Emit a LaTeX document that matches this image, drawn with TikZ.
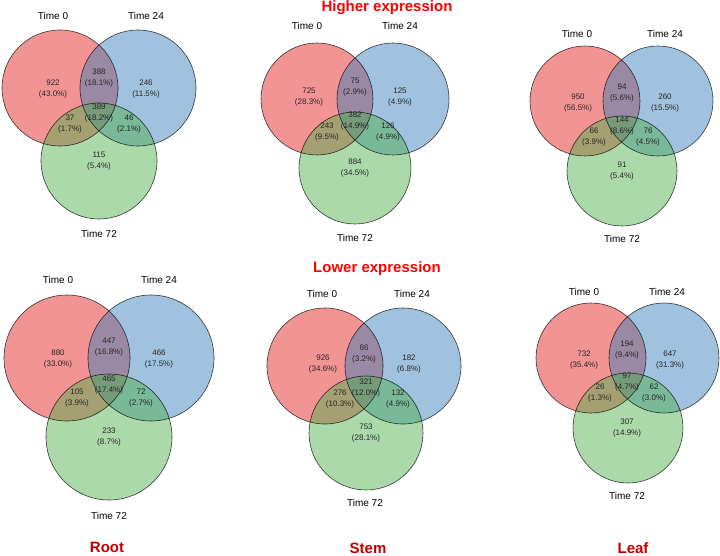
\documentclass[tikz,border=0pt]{standalone}
\usepackage{fontspec}
\setmainfont{Liberation Sans}
\definecolor{setred}{HTML}{E41A1C}
\definecolor{setblue}{HTML}{377EB8}
\definecolor{setgreen}{HTML}{4DAF4A}
\definecolor{tissuered}{HTML}{C00000}
\begin{document}
\begin{tikzpicture}[x=1pt, y=-1pt,
    fred/.style={fill=setred, fill opacity=0.47},
    fblue/.style={fill=setblue, fill opacity=0.47},
    fgreen/.style={fill=setgreen, fill opacity=0.47},
    rim/.style={draw=black, draw opacity=0.75, line width=0.6pt},
    setname/.style={font=\fontsize{10}{12}\selectfont, inner sep=0pt},
    count/.style={font=\fontsize{8}{11.5}\selectfont, align=center, inner sep=0pt, text=black!85},
    heading/.style={font=\fontsize{15}{18}\selectfont\bfseries, text=red, inner sep=0pt},
    tissue/.style={font=\fontsize{15}{18}\selectfont\bfseries, text=tissuered, inner sep=0pt}]
    \useasboundingbox (0,0) rectangle (720,556);
    % Section headings
    \node[heading] (hi) at (387,8) {Higher expression};
    \node[heading] (lo) at (377,269) {Lower expression};
    % Root, higher expression
    \fill[fred] (60,88) circle (58);
    \fill[fblue] (138,88) circle (58);
    \fill[fgreen] (99,161) circle (58);
    \draw[rim] (60,88) circle (58) (138,88) circle (58) (99,161) circle (58);
    \node[setname] (rh0) at (53,16) {Time 0};
    \node[setname] (rh24) at (146,16) {Time 24};
    \node[setname] (rh72) at (99,234) {Time 72};
    \node[count] (rhR) at (53,89) {922\\(43.0\%)};
    \node[count] (rhRB) at (99,78) {388\\(18.1\%)};
    \node[count] (rhB) at (146,89) {246\\(11.5\%)};
    \node[count] (rhC) at (99,113) {389\\(18.2\%)};
    \node[count] (rhRG) at (70,124) {37\\(1.7\%)};
    \node[count] (rhBG) at (129,124) {46\\(2.1\%)};
    \node[count] (rhG) at (99,161) {115\\(5.4\%)};
    % Stem, higher expression
    \fill[fred] (317,99) circle (56);
    \fill[fblue] (393,99) circle (56);
    \fill[fgreen] (355,168) circle (56);
    \draw[rim] (317,99) circle (56) (393,99) circle (56) (355,168) circle (56);
    \node[setname] (sh0) at (307,26) {Time 0};
    \node[setname] (sh24) at (400,26) {Time 24};
    \node[setname] (sh72) at (355,238) {Time 72};
    \node[count] (shR) at (309,97) {725\\(28.3\%)};
    \node[count] (shRB) at (355,87) {75\\(2.9\%)};
    \node[count] (shB) at (400,97) {125\\(4.9\%)};
    \node[count] (shC) at (355,121) {382\\(14.9\%)};
    \node[count] (shRG) at (327,132) {243\\(9.5\%)};
    \node[count] (shBG) at (388,132) {126\\(4.9\%)};
    \node[count] (shG) at (355,168) {884\\(34.5\%)};
    % Leaf, higher expression
    \fill[fred] (585,101) circle (55);
    \fill[fblue] (658,101) circle (55);
    \fill[fgreen] (622,171) circle (55);
    \draw[rim] (585,101) circle (55) (658,101) circle (55) (622,171) circle (55);
    \node[setname] (lh0) at (577,34) {Time 0};
    \node[setname] (lh24) at (665,34) {Time 24};
    \node[setname] (lh72) at (622,239) {Time 72};
    \node[count] (lhR) at (578,103) {950\\(56.5\%)};
    \node[count] (lhRB) at (622,93) {94\\(5.6\%)};
    \node[count] (lhB) at (665,103) {260\\(15.5\%)};
    \node[count] (lhC) at (622,126) {144\\(8.6\%)};
    \node[count] (lhRG) at (594,137) {66\\(3.9\%)};
    \node[count] (lhBG) at (648,137) {76\\(4.5\%)};
    \node[count] (lhG) at (622,171) {91\\(5.4\%)};
    % Root, lower expression
    \fill[fred] (67,358) circle (63);
    \fill[fblue] (151,358) circle (63);
    \fill[fgreen] (109,437) circle (63);
    \draw[rim] (67,358) circle (63) (151,358) circle (63) (109,437) circle (63);
    \node[setname] (rl0) at (58,280) {Time 0};
    \node[setname] (rl24) at (159,280) {Time 24};
    \node[setname] (rl72) at (109,516) {Time 72};
    \node[count] (rlR) at (58,359) {880\\(33.0\%)};
    \node[count] (rlRB) at (109,347) {447\\(16.8\%)};
    \node[count] (rlB) at (159,359) {466\\(17.5\%)};
    \node[count] (rlC) at (109,385) {465\\(17.4\%)};
    \node[count] (rlRG) at (77,398) {105\\(3.9\%)};
    \node[count] (rlBG) at (141,398) {72\\(2.7\%)};
    \node[count] (rlG) at (109,437) {233\\(8.7\%)};
    % Stem, lower expression
    \fill[fred] (325,366) circle (58);
    \fill[fblue] (403,366) circle (58);
    \fill[fgreen] (366,433) circle (57);
    \draw[rim] (325,366) circle (58) (403,366) circle (58) (366,433) circle (57);
    \node[setname] (sl0) at (322,294) {Time 0};
    \node[setname] (sl24) at (412,294) {Time 24};
    \node[setname] (sl72) at (365,503) {Time 72};
    \node[count] (slR) at (323,364) {926\\(34.6\%)};
    \node[count] (slRB) at (364,354) {86\\(3.2\%)};
    \node[count] (slB) at (409,364) {182\\(6.8\%)};
    \node[count] (slC) at (366,388) {321\\(12.0\%)};
    \node[count] (slRG) at (340,399) {276\\(10.3\%)};
    \node[count] (slBG) at (398,399) {132\\(4.9\%)};
    \node[count] (slG) at (366,433) {753\\(28.1\%)};
    % Leaf, lower expression
    \fill[fred] (591,358) circle (55);
    \fill[fblue] (664,358) circle (55);
    \fill[fgreen] (628,428) circle (55);
    \draw[rim] (591,358) circle (55) (664,358) circle (55) (628,428) circle (55);
    \node[setname] (ll0) at (584,292) {Time 0};
    \node[setname] (ll24) at (667,292) {Time 24};
    \node[setname] (ll72) at (627,496) {Time 72};
    \node[count] (llR) at (584,360) {732\\(35.4\%)};
    \node[count] (llRB) at (627,350) {194\\(9.4\%)};
    \node[count] (llB) at (670,360) {647\\(31.3\%)};
    \node[count] (llC) at (627,382) {97\\(4.7\%)};
    \node[count] (llRG) at (600,393) {26\\(1.3\%)};
    \node[count] (llBG) at (654,393) {62\\(3.0\%)};
    \node[count] (llG) at (627,428) {307\\(14.9\%)};
    % Tissue names
    \node[tissue] (root) at (107,547) {Root};
    \node[tissue] (stem) at (368,548) {Stem};
    \node[tissue] (leaf) at (633,548) {Leaf};
\end{tikzpicture}
\end{document}
